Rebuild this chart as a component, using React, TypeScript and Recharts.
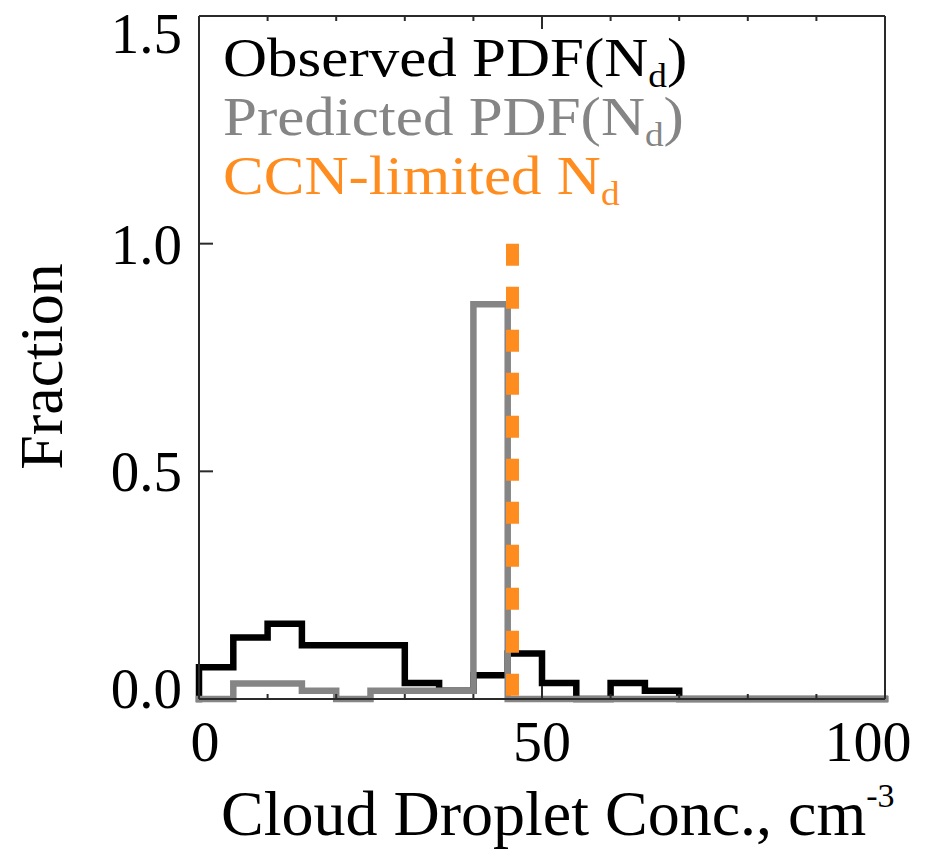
import { ComposedChart, Line, XAxis, YAxis, ReferenceLine, Legend } from 'recharts';

// bin edges every 5 cm^-3, one value per bin
const binEdges = [0, 5, 10, 15, 20, 25, 30, 35, 40, 45, 50, 55, 60, 65, 70, 75, 80, 85, 90, 95, 100];
const observedPdf = [0.07, 0.135, 0.165, 0.118, 0.118, 0.118, 0.035, 0.018, 0.052, 0.1, 0.035, 0, 0.035, 0.018, 0, 0, 0, 0, 0, 0];
const predictedPdf = [0, 0.034, 0.034, 0.018, 0, 0.018, 0.018, 0.018, 0.867, 0, 0, 0, 0, 0, 0, 0, 0, 0, 0, 0];
const ccnLimitedNd = 45.7;
const ccnLineTop = 1.0;

const xTicks = [0, 10, 20, 30, 40, 50, 60, 70, 80, 90, 100];
const xLabelTicks = [0, 50, 100];
const yTicks = [0, 0.5, 1.0, 1.5];

const legendItems = [
  { label: 'Observed PDF(N', sub: 'd', suffix: ')', color: '#000000' },
  { label: 'Predicted PDF(N', sub: 'd', suffix: ')', color: '#858585' },
  { label: 'CCN-limited N', sub: 'd', suffix: '', color: '#FF8C1F' },
];

// step outline: start at zero on the left edge, then one point per edge
const data = [
  { x: binEdges[0], obs: 0, pred: 0 },
  ...binEdges.map((x, i) => ({
    x,
    obs: observedPdf[Math.min(i, observedPdf.length - 1)],
    pred: predictedPdf[Math.min(i, predictedPdf.length - 1)],
  })),
];

const FONT = '"Liberation Serif", "Times New Roman", serif';
const FRAME = '#2a2a2a';

const W = 934;
const H = 854;
const margin = { top: 15, right: 48, bottom: 154, left: 198 };

function BottomTick(props: any) {
  const { x, y, payload } = props;
  const major = payload.value % 50 === 0;
  const len = major ? 13 : 5;
  const show = xLabelTicks.includes(payload.value);
  const lx = Math.min(Math.max(x, 205), 868);
  return (
    <g>
      <line x1={x} x2={x} y1={y} y2={y - len} stroke={FRAME} strokeWidth={2} />
      {show && (
        <text x={lx} y={y + 62} textAnchor="middle" fontFamily={FONT} fontSize={58} fill="#000">
          {payload.value}
        </text>
      )}
    </g>
  );
}

function TopTick(props: any) {
  const { x, y, payload } = props;
  const len = payload.value % 50 === 0 ? 13 : 5;
  return <line x1={x} x2={x} y1={y} y2={y + len} stroke={FRAME} strokeWidth={2} />;
}

function LeftTick(props: any) {
  const { x, y, payload } = props;
  const ly = Math.min(Math.max(y, 33), 688);
  return (
    <g>
      <line x1={x} x2={x + 14} y1={y} y2={y} stroke={FRAME} strokeWidth={2} />
      <text x={x - 17} y={ly} dy="0.35em" textAnchor="end" fontFamily={FONT} fontSize={57} fill="#000">
        {payload.value.toFixed(1)}
      </text>
    </g>
  );
}

function RightTick(props: any) {
  const { x, y } = props;
  return <line x1={x} x2={x - 14} y1={y} y2={y} stroke={FRAME} strokeWidth={2} />;
}

function XTitle(props: any) {
  const { viewBox } = props;
  return (
    <text x={viewBox.x + 22} y={viewBox.y + 136} textAnchor="start" fontFamily={FONT} fontSize={64} fill="#000">
      Cloud Droplet Conc., cm<tspan fontSize={34} dy={-28}>-3</tspan>
    </text>
  );
}

function YTitle(props: any) {
  const { viewBox } = props;
  const cy = viewBox.y + viewBox.height / 2 + 9;
  return (
    <text x={40} y={cy} transform={`rotate(-90 40 ${cy})`} dy="0.35em" textAnchor="middle" fontFamily={FONT} fontSize={62} fill="#000">
      Fraction
    </text>
  );
}

function LegendBox() {
  return (
    <svg width={W} height={230} style={{ display: 'block' }}>
      <g transform="translate(223,0) scale(1.13,1)">
        {legendItems.map((it, i) => (
          <text key={it.label} x={0} y={76 + i * 59} fontFamily={FONT} fontSize={54} fill={it.color}>
            {it.label}
            <tspan fontSize={33} dy={11}>{it.sub}</tspan>
            {it.suffix && <tspan dy={-11}>{it.suffix}</tspan>}
          </text>
        ))}
      </g>
    </svg>
  );
}

export default function App() {
  return (
    <div style={{ position: 'absolute', left: 0, top: 0, width: W, height: H, background: '#fff' }}>
      <ComposedChart width={W} height={H} data={data} margin={margin}>
        <XAxis
          dataKey="x"
          type="number"
          domain={[0, 100]}
          ticks={xTicks}
          interval={0}
          height={1}
          tickSize={0}
          tickMargin={0}
          tickLine={false}
          tick={BottomTick}
          axisLine={{ stroke: FRAME, strokeWidth: 2 }}
          allowDuplicatedCategory
          label={{ content: XTitle }}
        />
        <XAxis
          xAxisId="top"
          orientation="top"
          dataKey="x"
          type="number"
          domain={[0, 100]}
          ticks={xTicks}
          interval={0}
          height={1}
          tickSize={0}
          tickMargin={0}
          tickLine={false}
          tick={TopTick}
          axisLine={{ stroke: FRAME, strokeWidth: 2 }}
        />
        <YAxis
          type="number"
          domain={[0, 1.5]}
          ticks={yTicks}
          interval={0}
          width={1}
          tickSize={0}
          tickMargin={0}
          tickLine={false}
          tick={LeftTick}
          axisLine={{ stroke: FRAME, strokeWidth: 2 }}
          label={{ content: YTitle }}
        />
        <YAxis
          yAxisId="right"
          orientation="right"
          type="number"
          domain={[0, 1.5]}
          ticks={yTicks}
          interval={0}
          width={1}
          tickSize={0}
          tickMargin={0}
          tickLine={false}
          tick={RightTick}
          axisLine={{ stroke: FRAME, strokeWidth: 2 }}
        />
        <Legend
          layout="vertical"
          align="center"
          verticalAlign="middle"
          content={LegendBox}
          wrapperStyle={{ position: 'absolute', top: 0, left: 0, width: W, height: 230, pointerEvents: 'none' }}
        />
        <Line
          type="stepAfter"
          dataKey="obs"
          stroke="#000000"
          strokeWidth={6.5}
          strokeLinejoin="miter"
          strokeLinecap="square"
          dot={false}
          activeDot={false}
          isAnimationActive={false}
        />
        <Line
          type="stepAfter"
          dataKey="pred"
          stroke="#858585"
          strokeWidth={6.5}
          strokeLinejoin="miter"
          strokeLinecap="square"
          dot={false}
          activeDot={false}
          isAnimationActive={false}
        />
        <ReferenceLine
          segment={[
            { x: ccnLimitedNd, y: ccnLineTop },
            { x: ccnLimitedNd, y: 0 },
          ]}
          stroke="#FF8C1F"
          strokeWidth={13}
          strokeDasharray="22 21"
          ifOverflow="visible"
        />
      </ComposedChart>
    </div>
  );
}
